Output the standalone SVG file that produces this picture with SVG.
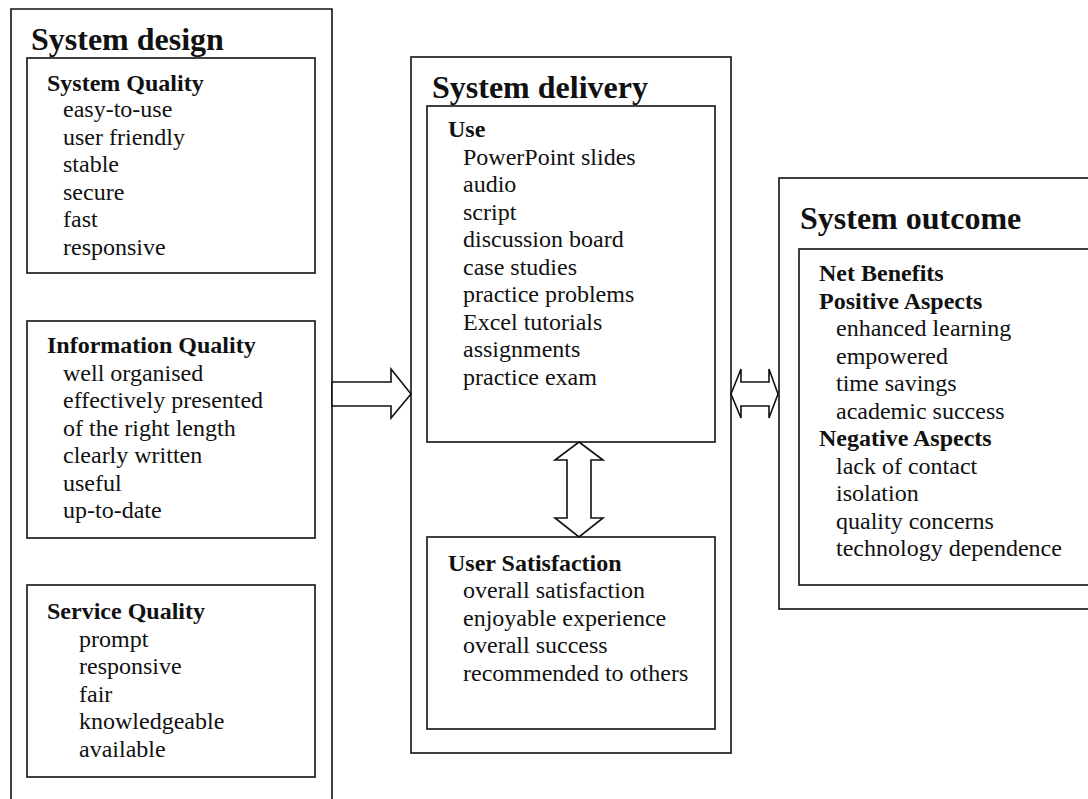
<svg xmlns="http://www.w3.org/2000/svg" width="1088" height="799" viewBox="0 0 1088 799">
<style>
.box{fill:none;stroke:#111;stroke-width:1.6}
.arr{fill:#fff;stroke:#111;stroke-width:1.6;stroke-linejoin:miter}
text{font-family:"Liberation Serif","Times New Roman",serif;fill:#111}
.t{font-size:32px;font-weight:bold}
.h{font-size:24px;font-weight:bold}
.i{font-size:24px}
</style>
<rect width="1088" height="799" fill="#fff"/>
<g id="system-design">
<path class="box" d="M11,805 V9 H332 V805"/>
<text class="t" x="31" y="50">System design</text>
</g>
<g id="system-quality">
<rect class="box" x="27" y="58" width="288" height="215"/>
<text class="h" x="47" y="91">System Quality</text>
<text class="i" x="63" y="117">easy-to-use</text>
<text class="i" x="63" y="144.5">user friendly</text>
<text class="i" x="63" y="172">stable</text>
<text class="i" x="63" y="199.5">secure</text>
<text class="i" x="63" y="227">fast</text>
<text class="i" x="63" y="254.5">responsive</text>
</g>
<g id="information-quality">
<rect class="box" x="27" y="321" width="288" height="217"/>
<text class="h" x="47" y="353">Information Quality</text>
<text class="i" x="63" y="380.5">well organised</text>
<text class="i" x="63" y="408">effectively presented</text>
<text class="i" x="63" y="435.5">of the right length</text>
<text class="i" x="63" y="463">clearly written</text>
<text class="i" x="63" y="490.5">useful</text>
<text class="i" x="63" y="518">up-to-date</text>
</g>
<g id="service-quality">
<rect class="box" x="27" y="585" width="288" height="192"/>
<text class="h" x="47" y="619">Service Quality</text>
<text class="i" x="79" y="646.5">prompt</text>
<text class="i" x="79" y="674">responsive</text>
<text class="i" x="79" y="701.5">fair</text>
<text class="i" x="79" y="729">knowledgeable</text>
<text class="i" x="79" y="756.5">available</text>
</g>
<g id="system-delivery">
<rect class="box" x="411" y="57" width="320" height="696"/>
<text class="t" x="432" y="98">System delivery</text>
</g>
<g id="use">
<rect class="box" x="427" y="106" width="288" height="336"/>
<text class="h" x="448" y="137">Use</text>
<text class="i" x="463" y="164.5">PowerPoint slides</text>
<text class="i" x="463" y="192">audio</text>
<text class="i" x="463" y="219.5">script</text>
<text class="i" x="463" y="247">discussion board</text>
<text class="i" x="463" y="274.5">case studies</text>
<text class="i" x="463" y="302">practice problems</text>
<text class="i" x="463" y="329.5">Excel tutorials</text>
<text class="i" x="463" y="357">assignments</text>
<text class="i" x="463" y="384.5">practice exam</text>
</g>
<g id="user-satisfaction">
<rect class="box" x="427" y="537" width="288" height="192"/>
<text class="h" x="448" y="571">User Satisfaction</text>
<text class="i" x="463" y="598">overall satisfaction</text>
<text class="i" x="463" y="625.5">enjoyable experience</text>
<text class="i" x="463" y="653">overall success</text>
<text class="i" x="463" y="680.5">recommended to others</text>
</g>
<g id="system-outcome">
<rect class="box" x="779" y="178" width="320" height="431"/>
<text class="t" x="800" y="229">System outcome</text>
</g>
<g id="net-benefits">
<rect class="box" x="799" y="249" width="300" height="336"/>
<text class="h" x="819" y="281">Net Benefits</text>
<text class="h" x="819" y="308.5">Positive Aspects</text>
<text class="i" x="836" y="336">enhanced learning</text>
<text class="i" x="836" y="363.5">empowered</text>
<text class="i" x="836" y="391">time savings</text>
<text class="i" x="836" y="418.5">academic success</text>
<text class="h" x="819" y="446">Negative Aspects</text>
<text class="i" x="836" y="473.5">lack of contact</text>
<text class="i" x="836" y="501">isolation</text>
<text class="i" x="836" y="528.5">quality concerns</text>
<text class="i" x="836" y="556">technology dependence</text>
</g>
<g id="connectors">
<polygon class="arr" points="332,382 391,382 391,369 411,394 391,418 391,406 332,406"/>
<polygon class="arr" points="579,442 603,460 591,460 591,518 603,518 579,537 555,518 567,518 567,460 555,460"/>
<polygon class="arr" points="731,394 741,369 741,382 769,382 769,369 778,394 769,418 769,406 741,406 741,418"/>
</g>
</svg>
